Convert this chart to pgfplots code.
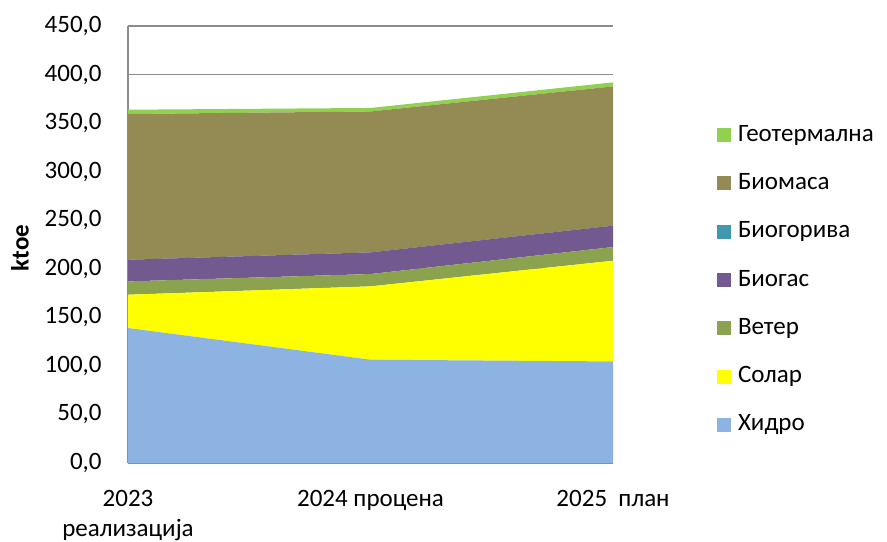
\documentclass[border=0pt]{standalone}
\usepackage{pgfplots}
\pgfplotsset{compat=1.18}
\usepackage{fontspec}
\setmainfont{Carlito}
\definecolor{hydro}{HTML}{8DB3E2}
\definecolor{solar}{HTML}{FFFF00}
\definecolor{wind}{HTML}{8BA34F}
\definecolor{biogas}{HTML}{725990}
\definecolor{biofuel}{HTML}{4198AF}
\definecolor{biomass}{HTML}{948A54}
\definecolor{geo}{HTML}{92D050}
\definecolor{gridc}{HTML}{8C8C8C}
\begin{document}
\fontsize{12.5}{15}\selectfont
\begin{tikzpicture}
\begin{axis}[
  stack plots=y, area style,
  axis on top=false,
  scale only axis, width=242.5pt, height=218.5pt,
  xmin=0, xmax=2, ymin=0, ymax=450,
  xtick={0,1,2},
  xticklabels={{2023\\реализација},{2024 процена},{2025\ \ план}},
  ytick={0,50,...,450},
  axis x line=bottom, axis y line=left,
  axis line style={-, draw=gridc, line width=0.9pt},
  major tick length=0pt,
  ymajorgrids, grid style={draw=gridc, line width=0.6pt},
  /pgf/number format/assume math mode=true,
  yticklabel style={/pgf/number format/.cd, fixed, fixed zerofill, precision=1, use comma, 1000 sep={}, assume math mode=true, /tikz/.cd, anchor=east, inner sep=0pt, xshift=-13pt},
  xticklabel style={align=center, anchor=north, inner sep=0pt, yshift=-13.5pt},
  ylabel={\textbf{ktoe}},
  ylabel style={at={(rel axis cs:-0.223,0.492)}, anchor=center},
  reverse legend,
  legend cell align=left,
  legend style={at={(rel axis cs:1.2144,0.4188)}, anchor=west, draw=none, fill=none,
    inner sep=0pt, outer sep=0pt, row sep=12.15pt, column sep=3.5pt,
    nodes={inner sep=0pt, text height=9pt, text depth=3pt}},
  legend image code/.code={\fill[#1] (0pt,-3.5pt) rectangle (7pt,3.5pt);},
]
\addplot[fill=hydro, draw=none] coordinates {(0,139.0) (1,106.4) (2,104.6)} \closedcycle;
\addlegendentry{Хидро}
\addplot[fill=solar, draw=none] coordinates {(0,34.3) (1,75.5) (2,103.7)} \closedcycle;
\addlegendentry{Солар}
\addplot[fill=wind, draw=none] coordinates {(0,13.7) (1,12.7) (2,14.1)} \closedcycle;
\addlegendentry{Ветер}
\addplot[fill=biogas, draw=none] coordinates {(0,22.3) (1,22.3) (2,22.0)} \closedcycle;
\addlegendentry{Биогас}
\addplot[fill=biofuel, draw=none] coordinates {(0,0) (1,0) (2,0)} \closedcycle;
\addlegendentry{Биогорива}
\addplot[fill=biomass, draw=none] coordinates {(0,150.1) (1,145.1) (2,143.4)} \closedcycle;
\addlegendentry{Биомаса}
\addplot[fill=geo, draw=none] coordinates {(0,4.4) (1,3.6) (2,4.2)} \closedcycle;
\addlegendentry{Геотермална}
\coordinate (bl) at (rel axis cs:-0.2639,-0.1785);
\coordinate (tr) at (rel axis cs:1.5649,1.0595);
\end{axis}
\pgfresetboundingbox
\path[use as bounding box] (bl) rectangle (tr);
\end{tikzpicture}
\end{document}
